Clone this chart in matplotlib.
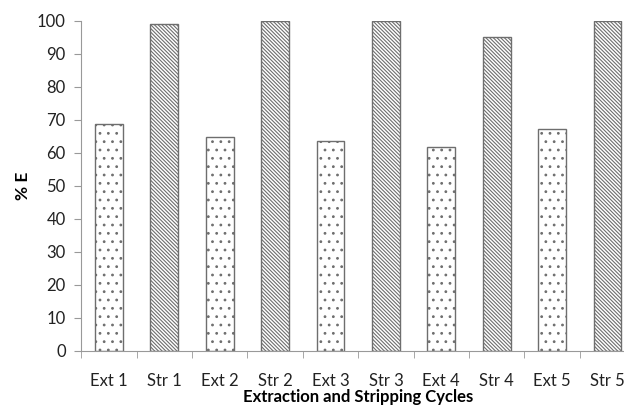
import matplotlib.pyplot as plt
import numpy as np

plt.rcParams['font.family'] = ['Lato', 'DejaVu Sans']
plt.rcParams['hatch.color'] = '#6e6e6e'
plt.rcParams['hatch.linewidth'] = 0.8

labels = ["Ext 1", "Str 1", "Ext 2", "Str 2", "Ext 3", "Str 3", "Ext 4", "Str 4", "Ext 5", "Str 5"]
values = [68.8, 99.2, 64.8, 100, 63.5, 100, 61.8, 95.2, 67.3, 100]


def main():
    fig = plt.figure(figsize=(6.24, 4.07), dpi=100)
    ax = fig.add_axes([0.13, 0.1376, 0.888, 0.811])
    x = np.arange(len(labels))
    for i, (lab, v) in enumerate(zip(labels, values)):
        hatch = '..' if lab.startswith("Ext") else '\\' * 9
        ax.bar(x[i], v, width=0.5, color='white', edgecolor='#6e6e6e',
               linewidth=1.0, hatch=hatch)

    ax.set_xlim(-0.5, len(labels) - 0.5)
    ax.set_ylim(0, 100)
    ax.set_yticks(range(0, 101, 10))
    ax.set_xticks(x)
    ax.set_xticklabels(labels)
    ax.set_xticks(np.arange(-0.5, len(labels), 1.0), minor=True)
    ax.tick_params(axis='x', which='major', length=0, pad=16, labelsize=12, colors='#222222')
    ax.tick_params(axis='x', which='minor', length=5, color='#999999', direction='out')
    ax.tick_params(axis='y', length=5, color='#999999', labelsize=12, labelcolor='#222222', pad=6)
    for s in ['top', 'right']:
        ax.spines[s].set_visible(False)
    for s in ['left', 'bottom']:
        ax.spines[s].set_color('#999999')
    ax.set_xlabel("Extraction and Stripping Cycles", fontsize=12, fontweight='bold', labelpad=0)
    ax.set_ylabel("% E", fontsize=12.5, fontweight='bold', labelpad=4)
    fig.savefig("out.png", dpi=100)


if __name__ == "__main__":
    main()
